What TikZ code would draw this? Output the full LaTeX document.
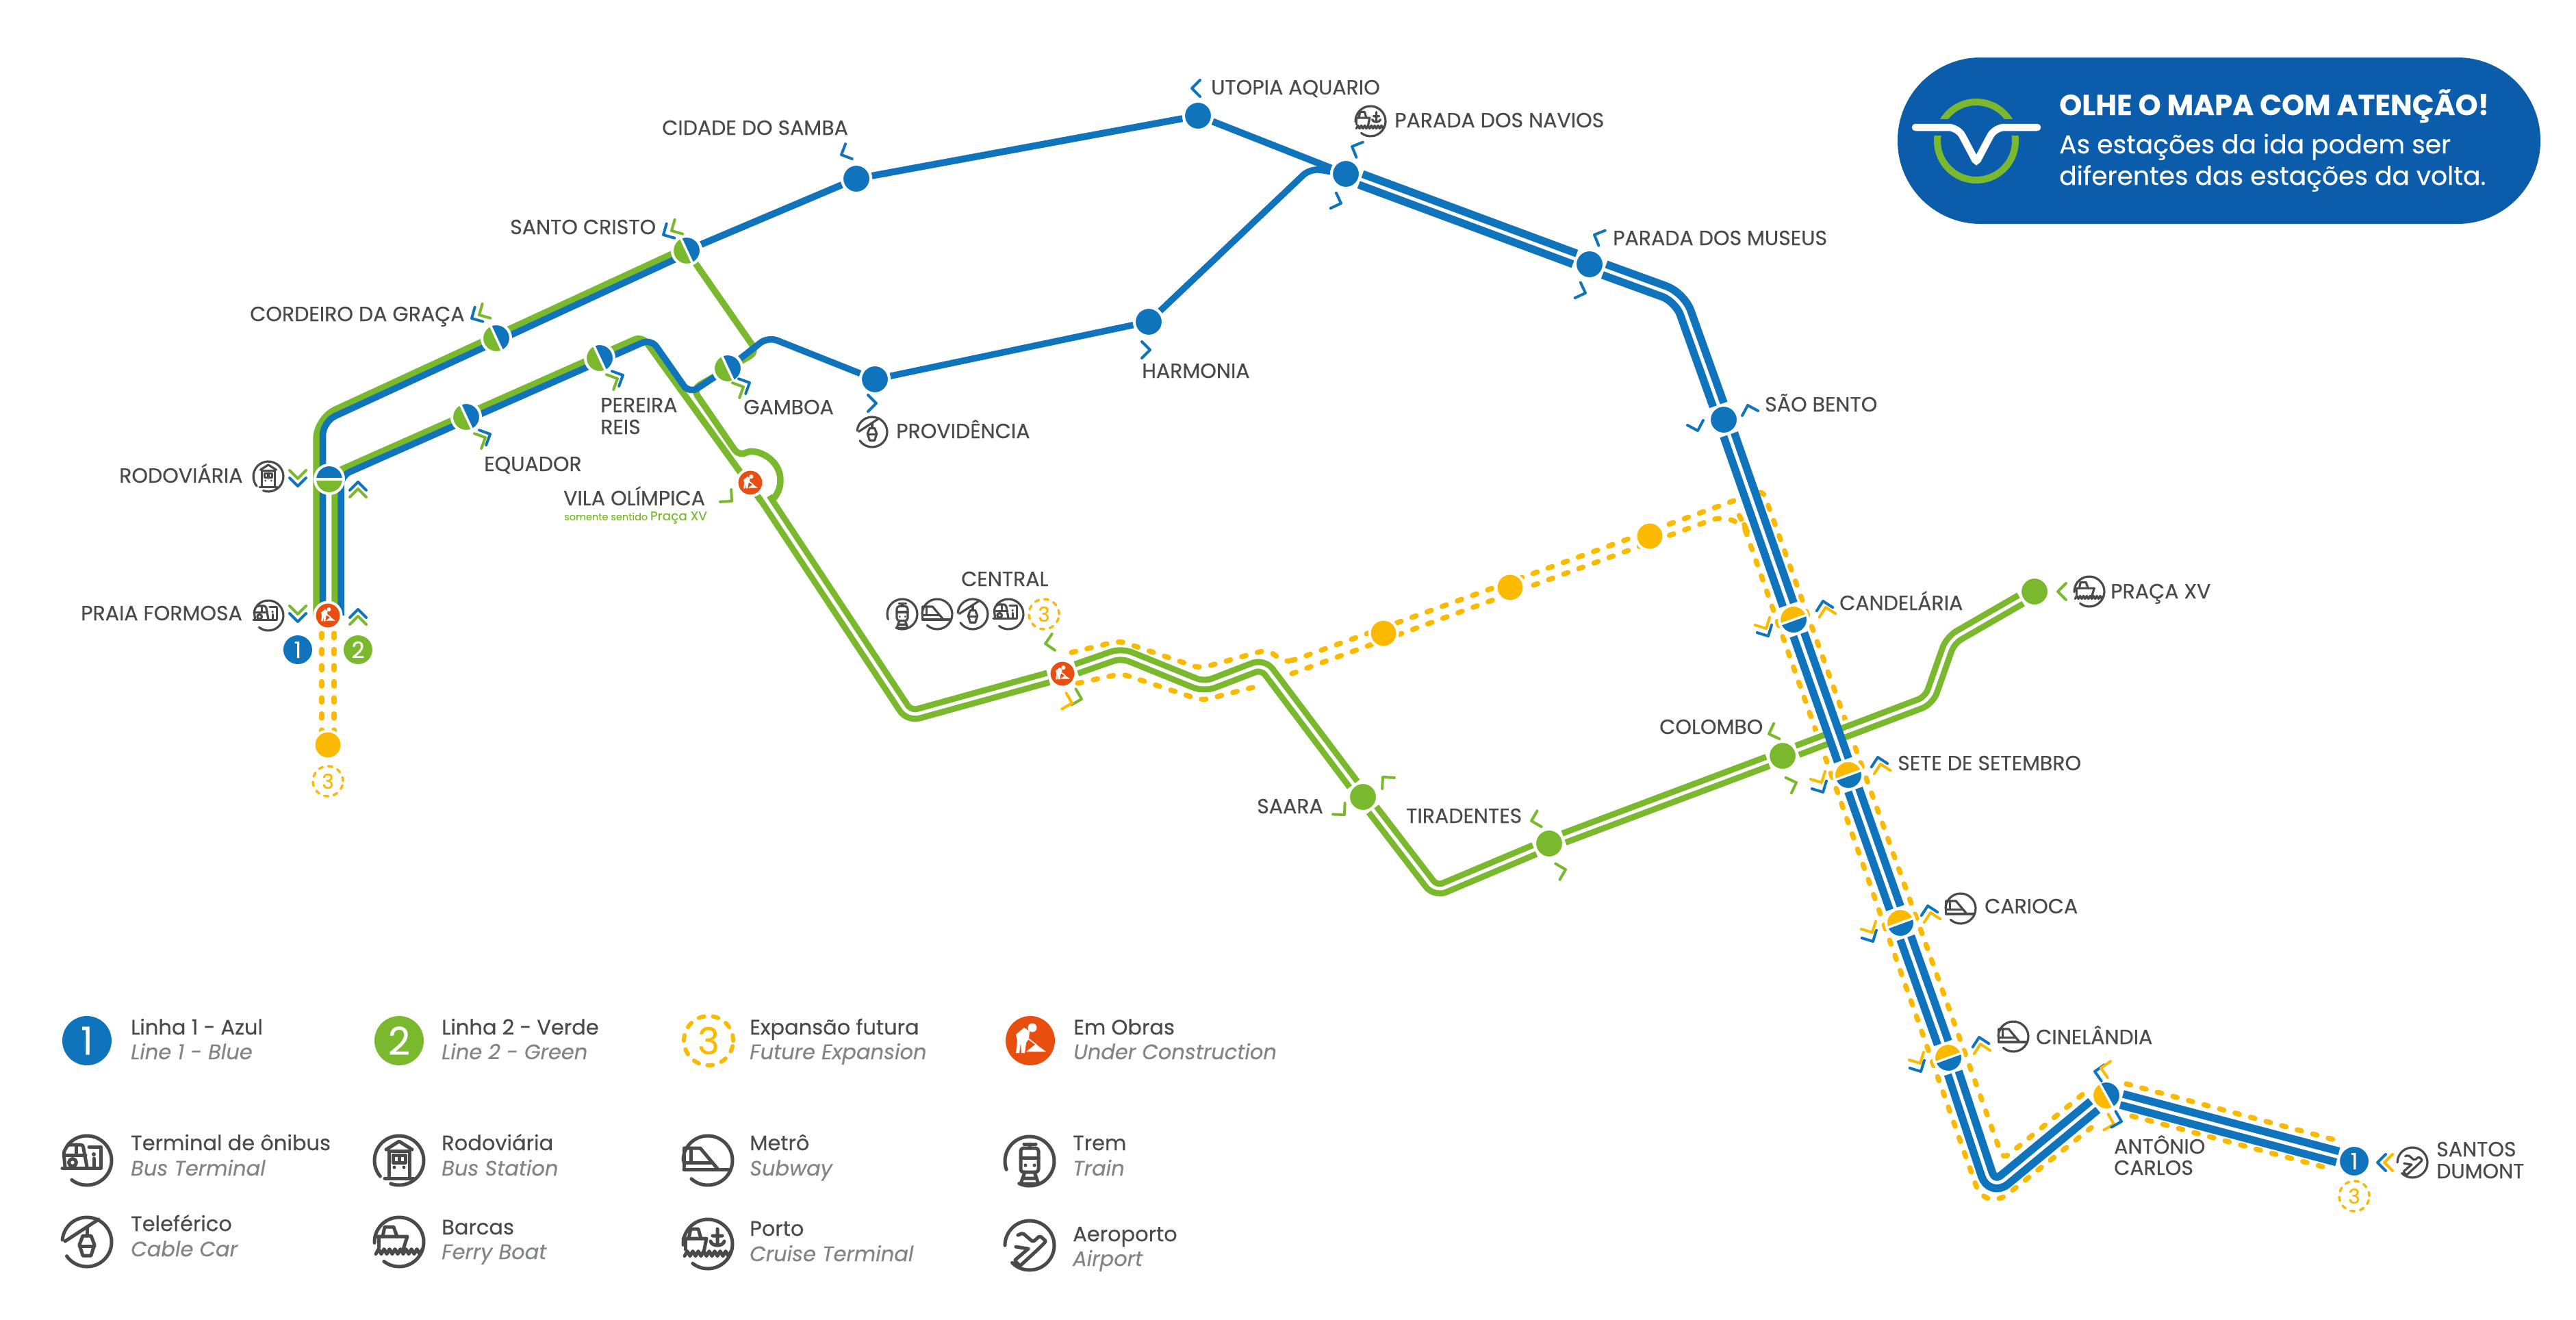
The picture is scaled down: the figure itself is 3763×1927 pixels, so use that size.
\documentclass[tikz,border=0pt]{standalone}
\usepackage{fontspec}
\setmainfont{Poppins}[FakeBold=0.4]
\usetikzlibrary{backgrounds,calc}
\definecolor{lineblue}{HTML}{1074BC}
\definecolor{linegreen}{HTML}{7AB92D}
\definecolor{lineyellow}{HTML}{FBB900}
\definecolor{workorange}{HTML}{E84E0F}
\definecolor{bannerblue}{HTML}{0B5CAB}
\definecolor{ink}{HTML}{4A4A4C}
\definecolor{softgray}{HTML}{828487}
\newcommand{\pxfont}[1]{\fontsize{#1}{#1}\selectfont}
\newcommand{\iconring}[2]{\tikzset{y=1pt}\draw (#1:36) arc[start angle=#1,delta angle=#2,radius=36];}
\tikzset{
  stbase/.style={circle,inner sep=0pt,minimum size=42pt,draw=white,line width=4pt},
  stblue/.style={stbase,fill=lineblue},
  stgreen/.style={stbase,fill=linegreen},
  styellow/.style={stbase,fill=lineyellow,minimum size=41pt},
  stwork/.style={stbase,fill=workorange,minimum size=39pt},
  stsplit/.style n args={3}{stbase,fill=white,path picture={
    \begin{scope}[shift={(path picture bounding box.center)}]
      \fill[#1] (#3:40pt) -- (#3+90:40pt) -- (#3+180:40pt) -- cycle;
      \fill[#2] (#3:40pt) -- (#3-90:40pt) -- (#3+180:40pt) -- cycle;
      \draw[white,line width=3.5pt] (#3:40pt) -- (#3+180:40pt);
    \end{scope}}},
  numdisc/.style={circle,inner sep=0pt,text=white},
  expdisc/.style={circle,inner sep=0pt,draw=lineyellow,text=lineyellow,line cap=round},
  blsingle/.style={draw=lineblue,line width=10pt,rounded corners=16pt},
  bldouble/.style={draw=lineblue,line width=11.5pt,double=white,double distance=5pt,rounded corners=24pt},
  grdouble/.style={draw=linegreen,line width=9pt,double=white,double distance=5pt,rounded corners=14pt},
  grsingle/.style={draw=linegreen,line width=9.5pt,rounded corners=12pt},
  trkgreen/.style={draw=linegreen,line width=9.5pt,rounded corners=30pt},
  trkblue/.style={draw=lineblue,line width=9.5pt,rounded corners=20pt},
  ylrail/.style={draw=lineyellow,line width=7.5pt,line cap=round,dash pattern=on 6.5pt off 17pt,rounded corners=10pt},
  stlabel/.style={anchor=base west,inner sep=0pt,text=ink,font=\pxfont{30}},
  legmain/.style={anchor=base west,inner sep=0pt,text=ink,font=\pxfont{30.5}},
  legsub/.style={anchor=base west,inner sep=0pt,text=softgray,font=\pxfont{30.5}\itshape},
  icon/.style={color=ink,line cap=round,line join=round},
  iconmap/.style={icon,scale=.61,line width=3.2pt},
  iconleg/.style={icon,line width=5pt},
  pics/chev/.style={code={\draw[line width=4pt,line cap=round,line join=round] (-12,-12) -- (0,0) -- (-12,12);}},
  pics/worker/.style={code={\tikzset{y=1pt}
    \fill[white] (3,19) circle (6.5);
    \fill[white] (-21,9) -- (-9,19) -- (-1,14) -- (-2,3) -- (-6,-3) -- (-8,-18) -- (-13,-18) -- (-14,-3) -- (-16,-18) -- (-21,-18) -- (-19,0) -- cycle;
    \fill[white] (8,-5) -- (23,-16) -- (-6,-16) -- cycle;
    \draw[white,line width=1.6pt] (-3,3) -- (9,-6);}},
  pics/iconbus/.style={code={\iconring{232}{270}
    \draw[rounded corners=3pt] (-32,-9) -- (-34,12) -- (-28,23) -- (-6,23) -- (0,-9);
    \draw (-31,8) -- (-2,8) (-16,23) -- (-16,8);
    \draw (-21,-3) circle (5.5);
    \draw (-36,-11) -- (20,-11) -- (20,20) -- (3,20);
    \fill (10,9) circle (3);
    \draw (10,3) -- (10,-9);}},
  pics/iconstation/.style={code={\iconring{250}{330}
    \draw (-19,16) -- (0,28) -- (19,16);
    \draw (-15,14) -- (-15,-23) (15,14) -- (15,-23) (-15,14) -- (15,14);
    \draw (-9,8) rectangle (9,-3) (0,8) -- (0,-3);
    \fill (-7,-10) circle (2.5) (7,-10) circle (2.5);
    \draw (-21,-26) -- (21,-26);}},
  pics/iconmetro/.style={code={\iconring{228}{312}
    \draw (-34,18) -- (-11,18) -- (15,-13);
    \draw (-25,18) -- (-25,-3) (-35,-3) -- (5,-3);
    \draw (-35,-13) -- (33,-13) (-35,18) -- (-35,-13);}},
  pics/icontrain/.style={code={\iconring{245}{315}
    \draw (-8,25) -- (9,25) (0,25) -- (0,19);
    \draw[rounded corners=4pt] (-13,19) rectangle (13,-16);
    \draw (-13,5) -- (13,5);
    \fill (-6,-6) circle (2.5) (7,-6) circle (2.5);
    \draw (-7,-16) -- (-13,-33) -- (13,-33) -- (7,-16) (-10,-25) -- (10,-25);}},
  pics/iconcable/.style={code={\iconring{215}{320}
    \draw (-32,1) -- (17,33);
    \draw (0,20) -- (0,9);
    \draw (-6,9) -- (6,9) -- (11,-4) -- (6,-20) -- (-6,-20) -- (-11,-4) -- cycle;
    \draw (-11,-6) -- (11,-6);}},
  pics/iconferry/.style={code={\iconring{232}{310}
    \draw (-24,8) -- (-21,22) -- (-8,22) -- (-3,8);
    \draw (-35,8) -- (12,8) -- (5,-14);
    \draw (-30,8) -- (-30,-8);
    \draw plot[smooth,domain=-34:34,samples=35] ({\x},{-14+3.5*sin(\x*45)});}},
  pics/iconport/.style={code={\iconring{232}{310}
    \draw (-28,8) -- (-25,22) -- (-14,22) -- (-10,8);
    \draw (-36,8) -- (-2,8) -- (-6,-12);
    \draw (-33,8) -- (-33,-8);
    \draw (14,22) -- (14,-2) (7,12) -- (21,12) (4,4) .. controls (6,-4) and (22,-4) .. (24,4);
    \draw plot[smooth,domain=-34:34,samples=35] ({\x},{-14+3.5*sin(\x*45)});}},
  pics/iconplane/.style={code={\iconring{225}{315}
    \draw[rounded corners=2pt] (-17,15) -- (-10,18) -- (5,5) -- (15,14) -- (24,6) -- (12,-6) -- (-14,-30) -- (-22,-22) -- (-2,-5);
    \draw (-2,-5) -- (-20,-2);}},
}
\begin{document}
\begin{tikzpicture}[x=1pt,y=-1pt]
  \useasboundingbox (0,0) rectangle (3763,1927);
  % ---- stations ----
  \foreach \n/\x/\y in {cidadesamba/1251/261, utopia/1750/169, providencia/1278/554, harmonia/1678/470, navios/1966/254, museus/2322/386, saobento/2518/613}
    \node[stblue] (\n) at (\x,\y) {};
  \foreach \n/\x/\y in {saara/1991/1164, tiradentes/2263/1232, colombo/2604/1104, pracaxv/2972/864}
    \node[stgreen] (\n) at (\x,\y) {};
  \foreach \n/\x/\y in {futuraa/2021/925, futurab/2206/858, futurac/2410/783, futurad/479/1088}
    \node[styellow] (\n) at (\x,\y) {};
  \foreach \n/\x/\y in {formosa/479/899, vilaolimpica/1096/705, central/1552/984}{
    \node[stwork] (\n) at (\x,\y) {};
    \pic[scale=.47] at (\n) {worker};}
  \foreach \n/\x/\y in {santocristo/1003/366, cordeiro/725/494, equador/681/609, pereirareis/876/523, gamboa/1063/538}
    \node[stsplit={lineblue}{linegreen}{-65}] (\n) at (\x,\y) {};
  \node[stsplit={lineblue}{linegreen}{0}] (rodoviaria) at (481,700) {};
  \foreach \n/\x/\y in {candelaria/2620/905, setesetembro/2700/1132, carioca/2776/1348, cinelandia/2846/1545}
    \node[stsplit={lineyellow}{lineblue}{20}] (\n) at (\x,\y) {};
  \node[stsplit={lineblue}{lineyellow}{-61}] (antonio) at (3077,1600) {};
  \node[numdisc,fill=lineblue,draw=white,line width=4pt,minimum size=46pt,font=\pxfont{33}] (santosdumont) at (3439,1696) {1};
  % ---- line numbers ----
  \node[numdisc,fill=lineblue,minimum size=42pt,font=\pxfont{33}] (numa) at (435,949) {1};
  \node[numdisc,fill=linegreen,minimum size=42pt,font=\pxfont{33}] (numb) at (523,949) {2};
  \foreach \n/\x/\y in {expa/479/1141, expb/1525/897, expc/3439/1747}
    \node[expdisc,minimum size=44pt,line width=3.5pt,dash pattern=on 6pt off 8pt,font=\pxfont{30}] (\n) at (\x,\y) {3};
  % ---- bends ----
  \foreach \n/\x/\y in {tga/462/899, tgb/462/611, tgc/1001/362, tba/471.5/899, tbb/471.5/616, tbc/1005/370,
      uga/489/899, ugb/489/690, ugc/938/491, ugd/1112/732, uba/498/899, ubb/498/695, ubc/951/495, ubd/1007/575, ube/1122/492,
      ngb/1106/514, ngc/1012/568, ngd/1080/667, nga/1118/728,
      ga/1328/1046, gb/1638/954, gc/1759/1003, gd/1845/970, ge/2097/1302, gf/2818/1023, gg/2849/935,
      nb/1914/246, ba/2454/434, bb/2910/1738,
      pa/470/925, pb/470/1068, qa/488/925, qb/488/1068,
      ua/1565/953, ub/1635/936, uc/1753/976, ud/1851/949, ue/1874/965, uf/1885/966, ug/2575/716, uh/2926/1693, ui/3044/1597,
      la/1574/998, lb/1638/984, lc/1756/1023, ld/1842/1001,
      ma/1887/984, mb/2537/746, mc/2544/759, md/2900/1770, me/3055/1647,
      ra/3106/1583, rb/3411/1665, sa/3114/1630, sb/3396/1705,
      wa/2500/1145, wb/2818/1023}
    \coordinate (\n) at (\x,\y);
  \begin{scope}[on background layer]
    % ---- line 3: future ----
    \draw[ylrail] (pa) -- (pb);
    \draw[ylrail] (qa) -- (qb);
    \draw[ylrail] (ua) -- (ub) -- (uc) -- (ud) -- (ue) -- (uf) -- (ug) -- (uh) -- (ui);
    \draw[ylrail] (la) -- (lb) -- (lc) -- (ld);
    \draw[ylrail,rounded corners=40pt] (ma) -- (mb) [rounded corners=8pt] -- (mc) [rounded corners=42pt] -- (md) -- (me);
    \draw[ylrail] (ra) -- (rb);
    \draw[ylrail] (sa) -- (sb);
    \draw[white,line width=34pt] (wa) -- (wb);
    % ---- line 2 ----
    \draw[trkgreen] (tga) -- (tgb) -- (tgc);
    \draw[grsingle] (uga) -- (ugb) -- (ugc) -- (ugd);
    \draw[grsingle] (santocristo) -- (ngb) -- (ngc) -- (ngd) [sharp corners] arc[start angle=120,end angle=-45,radius=40pt];
    \draw[grdouble] (nga) -- (ga) -- (central) -- (gb) -- (gc) -- (gd) -- (saara) -- (ge) -- (tiradentes) -- (colombo) -- (gf) -- (gg) -- (pracaxv);
    % ---- line 1 ----
    \draw[trkblue] (tba) -- (tbb) -- (tbc);
    \draw[trkblue,rounded corners=14pt] (uba) -- (ubb) -- (ubc) -- (ubd) -- (gamboa) -- (ube) -- (providencia) -- (harmonia) -- (nb) -- (navios);
    \draw[blsingle] (santocristo) -- (cidadesamba) -- (utopia) -- (navios);
    \draw[bldouble] (navios) -- (museus) -- (ba) -- (saobento) -- (candelaria) -- (setesetembro) -- (carioca) -- (cinelandia) -- (bb) -- (antonio) -- (santosdumont);
  \end{scope}
  % ---- direction marks ----
  \foreach \x/\y/\r/\c in {969/343/209/lineblue, 981/337/209/linegreen, 689/465/209/lineblue, 700/460/209/linegreen,
      435/699/270/linegreen, 435/710/270/lineblue, 523/704/90/lineblue, 523/714/90/linegreen,
      435/897/270/linegreen, 435/908/270/lineblue, 523/890/90/lineblue, 523/900/90/linegreen,
      716/634/25/lineblue, 709/639/25/linegreen, 910/548/25/lineblue, 902/553/25/linegreen,
      1095/559/25/lineblue, 1086/565/25/linegreen, 1069/732/-42/linegreen,
      1229/226/204/lineblue, 1741/129/180/lineblue, 1280/589/0/lineblue, 1680/511/0/lineblue,
      1975/214/157/lineblue, 1959/297/-20/lineblue, 2329/343/157/lineblue, 2316/428/-20/lineblue,
      2553/592/107/lineblue, 2480/629/-73/lineblue,
      1527/940/190/linegreen, 1580/1021/-15/linegreen, 1566/1027/-15/lineyellow,
      1964/1190/-47/linegreen, 2020/1135/132/linegreen, 2237/1199/195/linegreen, 2287/1270/15/linegreen,
      2584/1072/200/linegreen, 2624/1143/20/linegreen, 3006/864/180/linegreen,
      2663/878/102/lineblue, 2667/887/102/lineyellow, 2580/918/-62/lineyellow, 2583/929/-62/lineblue,
      2743/1106/102/lineblue, 2747/1116/102/lineyellow, 2661/1143/-62/lineyellow, 2663/1157/-62/lineblue,
      2816/1323/102/lineblue, 2820/1333/102/lineyellow, 2735/1362/-62/lineyellow, 2736/1375/-62/lineblue,
      2891/1515/102/lineblue, 2893/1525/102/lineyellow, 2805/1553/-62/lineyellow, 2806/1565/-62/lineblue,
      3060/1565/170/lineblue, 3069/1560/170/lineyellow, 3088/1642/-15/lineyellow, 3099/1638/-15/lineblue,
      3473/1698/180/lineblue, 3483/1698/180/lineyellow}
    \pic[rotate=\r,color=\c] at (\x,\y) {chev};
  % ---- station names ----
  \foreach \n/\x/\y/\t in {ua/1769/138/UTOPIA AQUARIO, nv/2037/186/PARADA DOS NAVIOS, mu/2356/358/PARADA DOS MUSEUS,
      cs/967/197/CIDADE DO SAMBA, sc/745/342/SANTO CRISTO, cg/365/469/CORDEIRO DA GRAÇA, ro/174/705/RODOVIÁRIA,
      pf/118/906/PRAIA FORMOSA, eq/707/688/EQUADOR, pr/877/602/PEREIRA, rs/877/634/REIS, gm/1086/605/GAMBOA,
      vo/823/738/VILA OLÍMPICA, pv/1309/640/PROVIDÊNCIA, hm/1668/552/HARMONIA, sb/2578/601/SÃO BENTO,
      ca/2687/891/CANDELÁRIA, px/3083/874/PRAÇA XV, cl/2424/1072/COLOMBO, st/2772/1125/SETE DE SETEMBRO,
      co/2899/1334/CARIOCA, ci/2974/1525/CINELÂNDIA, ab/3088/1685/ANTÔNIO, ac/3088/1716/CARLOS,
      sd/3559/1689/SANTOS, se/3559/1721/DUMONT, ct/1404/856/CENTRAL, sa/1836/1188/SAARA, ti/2054/1202/TIRADENTES}
    \node[stlabel] (l\n) at (\x,\y) {\t};
  \node[anchor=base east,inner sep=0pt,text=linegreen,font=\pxfont{14.5}] (lvs) at (1033,760) {somente sentido {\pxfont{18.5}Praça XV}};
  % ---- station icons ----
  \pic[iconmap] at (392,696) {iconstation};
  \pic[iconmap] at (392,899) {iconbus};
  \pic[iconmap] at (1274,631) {iconcable};
  \pic[iconmap] at (2002,177) {iconport};
  \pic[iconmap] at (1318,897) {icontrain};
  \pic[iconmap] at (1369,897) {iconmetro};
  \pic[iconmap] at (1421,897) {iconcable};
  \pic[iconmap] at (1473,897) {iconbus};
  \pic[iconmap] at (3052,864) {iconferry};
  \pic[iconmap] at (2864,1327) {iconmetro};
  \pic[iconmap] at (2941,1514) {iconmetro};
  \pic[iconmap] at (3524,1698) {iconplane};
  % ---- legend ----
  \node[numdisc,fill=lineblue,minimum size=72pt,font=\pxfont{56}] (lgone) at (127,1520) {1};
  \node[numdisc,fill=linegreen,minimum size=72pt,font=\pxfont{56}] (lgtwo) at (583,1520) {2};
  \node[expdisc,minimum size=72pt,line width=6pt,dash pattern=on 8pt off 13pt,font=\pxfont{54}] (lgthree) at (1035,1520) {3};
  \node[numdisc,fill=workorange,minimum size=72pt] (lgwork) at (1505,1520) {};
  \pic at (lgwork) {worker};
  \pic[iconleg] at (127,1695) {iconbus};
  \pic[iconleg] at (583,1695) {iconstation};
  \pic[iconleg] at (1034,1695) {iconmetro};
  \pic[iconleg] at (1504,1696) {icontrain};
  \pic[iconleg] at (127,1814) {iconcable};
  \pic[iconleg] at (583,1814) {iconferry};
  \pic[iconleg] at (1034,1817) {iconport};
  \pic[iconleg] at (1504,1819) {iconplane};
  \foreach \n/\x/\ya/\yb/\a/\b in {a/191/1511/1547/Linha 1 - Azul/Line 1 - Blue, b/645/1511/1547/Linha 2 - Verde/Line 2 - Green,
      c/1095/1511/1547/Expansão futura/Future Expansion, d/1568/1511/1547/Em Obras/Under Construction,
      e/191/1680/1717/Terminal de ônibus/Bus Terminal, f/645/1680/1717/Rodoviária/Bus Station,
      g/1095/1680/1717/Metrô/Subway, h/1567/1680/1717/Trem/Train,
      i/191/1798/1835/Teleférico/Cable Car, j/645/1803/1839/Barcas/Ferry Boat,
      k/1095/1805/1842/Porto/Cruise Terminal, l/1567/1813/1849/Aeroporto/Airport}{
    \node[legmain] (lm\n) at (\x,\ya) {\a};
    \node[legsub] (ls\n) at (\x,\yb) {\b};}
  % ---- notice ----
  \node[rectangle,rounded corners=121pt,fill=bannerblue,minimum width=939pt,minimum height=243pt] (aviso) at (3241.5,205.5) {};
  \node[circle,draw=linegreen,line width=10pt,minimum size=114pt] (avisoring) at (2887,206) {};
  \coordinate (ava) at (2798,186);
  \coordinate (avb) at (2887,237);
  \coordinate (avc) at (2976,186);
  \draw[bannerblue,line width=24pt] ($(avisoring.west)+(-8,-20)$) -- ($(avisoring.east)+(8,-20)$);
  \draw[white,line width=10.5pt,line cap=round,rounded corners=14pt] (ava) -- (2860,186) [rounded corners=4pt] -- (avb) [rounded corners=14pt] -- (2914,186) -- (avc);
  \node[anchor=base west,inner sep=0pt,text=white,font=\pxfont{42}\bfseries] (avisoa) at (3008,168) {OLHE O MAPA COM ATENÇÃO!};
  \node[anchor=base west,inner sep=0pt,text=white,font=\pxfont{37.6}] (avisob) at (3008,224) {As estações da ida podem ser};
  \node[anchor=base west,inner sep=0pt,text=white,font=\pxfont{37.6}] (avisoc) at (3008,270) {diferentes das estações da volta.};
\end{tikzpicture}
\end{document}
